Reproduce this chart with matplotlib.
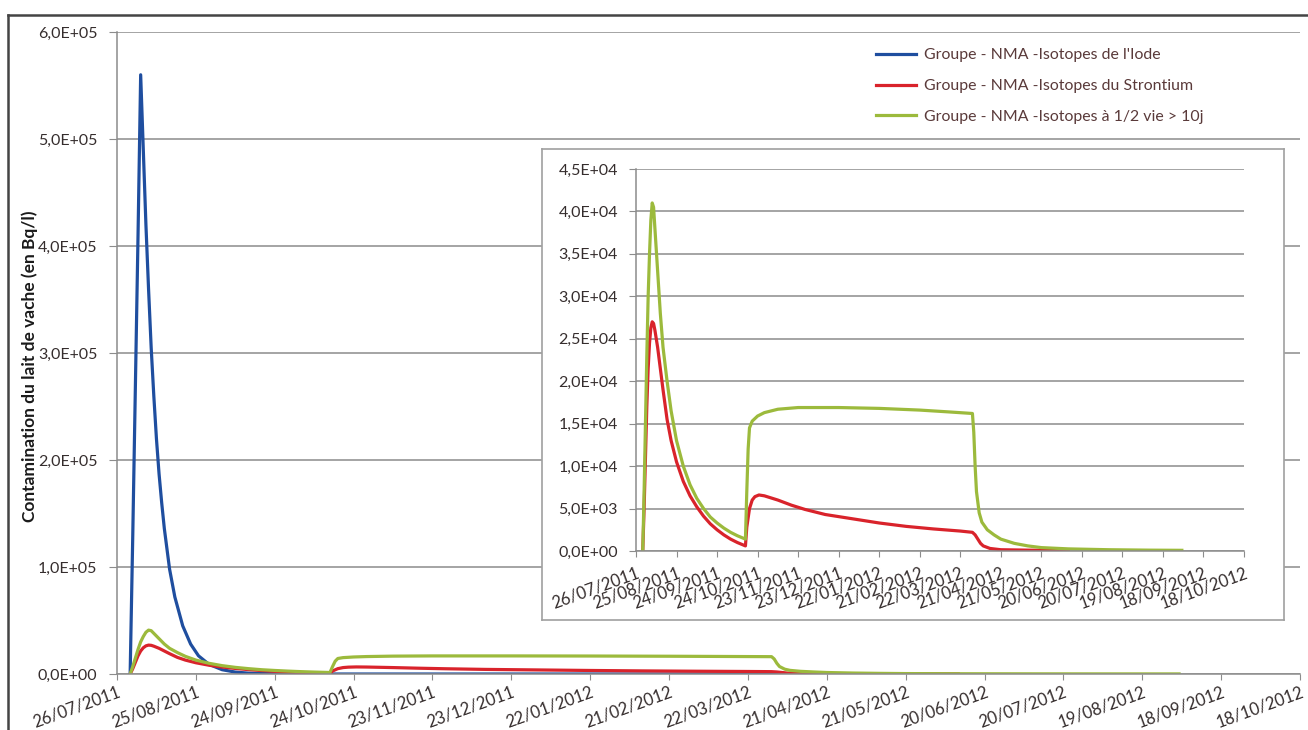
import numpy as np
import matplotlib
matplotlib.use("Agg")
import matplotlib.pyplot as plt
from matplotlib.ticker import FuncFormatter, MultipleLocator
from datetime import datetime

# ---------------- data (days after 26/07/2011, Bq/l) ----------------
start_date = "26/07/2011"
tick_labels = ["26/07/2011", "25/08/2011", "24/09/2011", "24/10/2011", "23/11/2011",
               "23/12/2011", "22/01/2012", "21/02/2012", "22/03/2012", "21/04/2012",
               "21/05/2012", "20/06/2012", "20/07/2012", "19/08/2012", "18/09/2012",
               "18/10/2012"]

series_names = ["Groupe - NMA -Isotopes de l'Iode",
                "Groupe - NMA -Isotopes du Strontium",
                "Groupe - NMA -Isotopes à 1/2 vie > 10j"]

iode_days = [5, 6, 7, 8, 9, 10, 11, 12, 13, 14, 15, 16, 17, 18, 20, 22, 25, 28, 31,
             35, 40, 45, 50, 60, 80, 120, 160, 200, 260]
iode_vals = [0, 1.3e5, 2.7e5, 4.1e5, 5.6e5, 4.9e5, 4.2e5, 3.6e5, 3.05e5, 2.6e5, 2.2e5,
             1.87e5, 1.6e5, 1.36e5, 0.98e5, 0.72e5, 0.45e5, 0.28e5, 0.17e5,
             0.09e5, 0.04e5, 0.018e5, 0.008e5, 0.002e5, 0, 0, 0, 0, 0]

sr_days = [5, 6, 7, 8, 9, 10, 11, 12, 13, 14, 16, 18, 20, 23, 26, 30, 35, 40, 45, 50,
           55, 60, 65, 70, 75, 81, 82, 84, 86, 88, 91, 95, 105, 115, 125, 140, 160,
           180, 200, 220, 240, 249, 251, 253, 255, 257, 262, 270, 290, 320]
sr_vals = [0, 5e3, 11e3, 17e3, 21.5e3, 24.5e3, 26.3e3, 27e3, 26.8e3, 26e3, 24e3,
           21.5e3, 19e3, 15.5e3, 13e3, 10.5e3, 8.2e3, 6.5e3, 5.2e3, 4.1e3,
           3.2e3, 2.5e3, 1.9e3, 1.4e3, 1.0e3, 0.6e3, 2.8e3, 5.0e3, 6.0e3, 6.4e3,
           6.6e3, 6.5e3, 6.0e3, 5.4e3, 4.9e3, 4.3e3, 3.8e3,
           3.3e3, 2.9e3, 2.6e3, 2.35e3, 2.2e3, 1.9e3, 1.4e3, 0.9e3, 0.6e3, 0.3e3,
           0.15e3, 0.1e3, 0.05e3]

demi_days = [5, 6, 7, 8, 9, 10, 11, 12, 13, 14, 16, 18, 20, 23, 26, 30, 35, 40, 45,
             50, 55, 60, 65, 70, 75, 81, 82, 83, 84, 86, 90, 95, 105, 120, 150, 180,
             210, 230, 249, 250, 251, 252, 254, 256, 260, 265, 270, 280, 290, 300,
             320, 350, 380, 404]
demi_vals = [0, 7e3, 15e3, 23e3, 30e3, 35e3, 39e3, 41e3, 40.5e3, 38e3, 33e3, 28e3,
             24e3, 20e3, 16.5e3, 13e3, 10e3, 7.8e3, 6.2e3,
             5e3, 4e3, 3.3e3, 2.7e3, 2.2e3, 1.8e3, 1.4e3, 7e3, 12e3, 14.5e3,
             15.3e3, 15.9e3, 16.3e3, 16.7e3, 16.9e3, 16.9e3, 16.8e3,
             16.6e3, 16.4e3, 16.2e3, 14e3, 10e3, 7e3, 4.5e3, 3.4e3, 2.5e3, 1.9e3,
             1.4e3, 0.9e3, 0.6e3, 0.4e3,
             0.25e3, 0.15e3, 0.1e3, 0.08e3]

# ---------------- helpers ----------------
base = np.datetime64(datetime.strptime(start_date, "%d/%m/%Y").strftime("%Y-%m-%d"))


def to_dates(days):
    return base + np.array(days, dtype="timedelta64[D]")


tick_pos = [np.datetime64(datetime.strptime(t, "%d/%m/%Y").strftime("%Y-%m-%d"))
            for t in tick_labels]


def excel_sci(v, pos=None):
    if v == 0:
        return "0,0E+00"
    e = int(np.floor(np.log10(abs(v)) + 1e-9))
    m = v / 10 ** e
    return ("%.1f" % m).replace(".", ",") + "E%+03d" % e


plt.rcParams['font.family'] = ['Lato', 'DejaVu Sans']

W, H = 1308, 730
fig = plt.figure(figsize=(W / 100, H / 100), dpi=100)


def frac(x0, y0, x1, y1):
    return [x0 / W, 1 - y1 / H, (x1 - x0) / W, (y1 - y0) / H]


txt_col = "#352d2d"
grid_col = "#8c8c8c"
colors = ["#1f4e9f", "#d9232b", "#9cba3c"]
lw = 2.3

# outer frame (left and top edges visible)
fig.add_artist(plt.Line2D([8 / W, 8 / W], [0, 1 - 15 / H], color="#444444", lw=1.8))
fig.add_artist(plt.Line2D([8 / W, 1], [1 - 15 / H, 1 - 15 / H], color="#444444", lw=1.8))

# ---------------- main axes ----------------
ax = fig.add_axes(frac(117, 32, 1300, 674))
ax.set_zorder(1)
for d, v, c, n in zip([iode_days, sr_days, demi_days], [iode_vals, sr_vals, demi_vals],
                      colors, series_names):
    ax.plot(to_dates(d), v, color=c, lw=lw, label=n, solid_joinstyle="round")

ax.set_xlim(tick_pos[0], tick_pos[-1])
ax.set_ylim(0, 6e5)
ax.yaxis.set_major_locator(MultipleLocator(1e5))
ax.yaxis.set_major_formatter(FuncFormatter(excel_sci))
ax.set_xticks(tick_pos)
ax.set_xticklabels(tick_labels, rotation=20, ha="right", rotation_mode="anchor",
                   va="top", fontsize=12, color=txt_col)
ax.tick_params(axis="x", length=4, color=grid_col, pad=3)
ax.tick_params(axis="y", length=6, color=grid_col, pad=8, labelsize=11.5, labelcolor=txt_col)
ax.grid(axis="y", color=grid_col, lw=1.1)
ax.set_axisbelow(True)
for s in ["top", "right"]:
    ax.spines[s].set_visible(False)
for s in ["left", "bottom"]:
    ax.spines[s].set_color(grid_col)
    ax.spines[s].set_linewidth(1.1)
ax.set_ylabel("Contamination du lait de vache (en Bq/l)", fontsize=12.5, fontweight="bold",
              color="#1a1a1a")
ax.yaxis.set_label_coords((38 - 117) / (1300 - 117), 0.48)

leg = ax.legend(loc="upper left", bbox_to_anchor=((870 - 117) / (1300 - 117), 1 - (42 - 32) / 642),
                frameon=False, fontsize=11.4, handlelength=2.5, labelspacing=1.05,
                handletextpad=0.5, borderaxespad=0)
for t in leg.get_texts():
    t.set_color("#5a3a3a")

# ---------------- inset ----------------
box = fig.add_axes(frac(542, 149, 1284, 620))
box.set_zorder(2)
box.set_xticks([])
box.set_yticks([])
box.set_facecolor("white")
for s in box.spines.values():
    s.set_color("#a0a0a0")
    s.set_linewidth(1.2)

ins = fig.add_axes(frac(636, 169, 1244, 551))
ins.set_zorder(3)
ins.set_facecolor("none")
for d, v, c in zip([sr_days, demi_days], [sr_vals, demi_vals], colors[1:]):
    ins.plot(to_dates(d), v, color=c, lw=lw, solid_joinstyle="round")
ins.set_xlim(tick_pos[0], tick_pos[-1])
ins.set_ylim(0, 4.5e4)
ins.yaxis.set_major_locator(MultipleLocator(5e3))
ins.yaxis.set_major_formatter(FuncFormatter(excel_sci))
ins.set_xticks(tick_pos)
ins.set_xticklabels(tick_labels, rotation=20, ha="right", rotation_mode="anchor",
                    va="top", fontsize=12, color=txt_col)
ins.tick_params(axis="x", length=4, color=grid_col, pad=6)
ins.tick_params(axis="y", length=5, color=grid_col, pad=8, labelsize=11.5, labelcolor=txt_col)
ins.grid(axis="y", color=grid_col, lw=1.1)
ins.set_axisbelow(True)
for s in ["top", "right"]:
    ins.spines[s].set_visible(False)
for s in ["left", "bottom"]:
    ins.spines[s].set_color(grid_col)
    ins.spines[s].set_linewidth(1.1)

fig.savefig("out.png", dpi=100)
